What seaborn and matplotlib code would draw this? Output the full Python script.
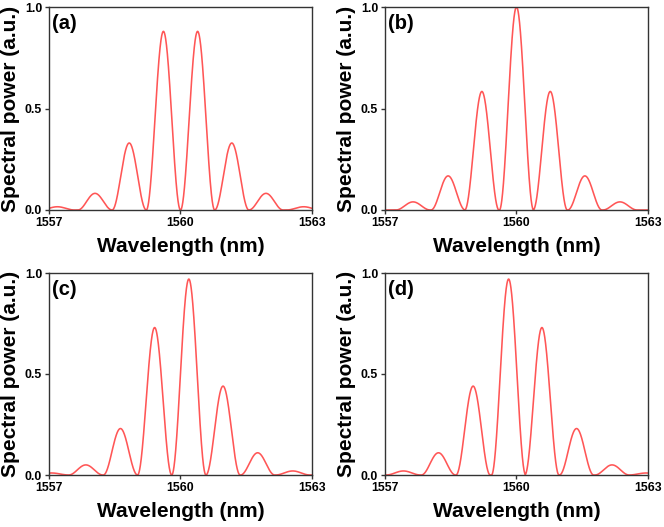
import numpy as np
import pandas as pd
import matplotlib
matplotlib.use("Agg")
import matplotlib.pyplot as plt
import seaborn as sns

# Peak wavelengths (nm) and heights
peaks_a = [1557.19, 1558.05, 1558.83, 1559.61, 1560.39, 1561.17, 1561.95, 1562.81]
heights_a = [0.016, 0.082, 0.33, 0.88, 0.88, 0.33, 0.082, 0.016]

peaks_b = [1557.64, 1558.44, 1559.21, 1560.0, 1560.77, 1561.56, 1562.36]
heights_b = [0.04, 0.168, 0.584, 1.0, 0.584, 0.168, 0.04]

peaks_c = [1557.06, 1557.84, 1558.63, 1559.41, 1560.19, 1560.97, 1561.76, 1562.56]
heights_c = [0.01, 0.05, 0.23, 0.73, 0.97, 0.44, 0.11, 0.02]

peaks_d = [1557.42, 1558.22, 1559.01, 1559.82, 1560.58, 1561.37, 1562.18, 1562.96]
heights_d = [0.02, 0.11, 0.44, 0.97, 0.73, 0.23, 0.05, 0.01]

panel_labels = ["(a)", "(b)", "(c)", "(d)"]
x_ticks = [1557, 1560, 1563]
y_ticks = [0.0, 0.5, 1.0]

LINE_WIDTH_NM = 0.78  # width of each comb line lobe (zero to zero)
LINE_COLOR = "#ff5656"
EDGE_COLOR = "#333333"


def spectrum(peaks, heights):
    """Trace the comb spectrum as cos^2 lobes sitting on each read-off peak."""
    wl = np.linspace(1557, 1563, 3001)
    power = np.zeros_like(wl)
    for c, h in zip(peaks, heights):
        d = wl - c
        lobe = np.where(np.abs(d) < LINE_WIDTH_NM / 2,
                        h * np.cos(np.pi * d / LINE_WIDTH_NM) ** 2, 0.0)
        power = np.maximum(power, lobe)
    return pd.DataFrame({"wavelength": wl, "power": power})


def draw_panel(ax, df, label):
    sns.lineplot(data=df, x="wavelength", y="power", ax=ax,
                 color=LINE_COLOR, linewidth=1.15)
    ax.set_xlim(1557, 1563)
    ax.set_ylim(0, 1.0)
    ax.set_xticks(x_ticks)
    ax.set_yticks(y_ticks)
    ax.set_yticklabels([f"{v:.1f}" for v in y_ticks])
    ax.set_xlabel("Wavelength (nm)", fontsize=15, fontweight="bold", labelpad=6)
    ax.set_ylabel("Spectral power (a.u.)", fontsize=15, fontweight="bold")
    ax.yaxis.set_label_coords(-0.112, 0.5)
    ax.tick_params(direction="out", length=3, width=1, labelsize=8.8,
                   color=EDGE_COLOR, labelcolor="black", pad=2)
    for t in ax.get_xticklabels() + ax.get_yticklabels():
        t.set_fontweight("bold")
    for s in ax.spines.values():
        s.set_visible(True)
        s.set_color(EDGE_COLOR)
        s.set_linewidth(1.0)
    ax.text(0.012, 0.965, label, transform=ax.transAxes, ha="left", va="top",
            fontsize=14.5, fontweight="bold", color="black")


def main():
    sns.set_theme(style="ticks")
    plt.rcParams["font.family"] = ["Liberation Sans", "DejaVu Sans"]
    plt.rcParams["text.color"] = "black"
    plt.rcParams["axes.labelcolor"] = "black"

    fig = plt.figure(figsize=(6.64, 5.27), dpi=100)
    W, H = 664, 527
    boxes = [(49, 7, 312, 210), (385, 7, 648, 210),
             (49, 273, 312, 475), (385, 273, 648, 475)]
    data = [(peaks_a, heights_a), (peaks_b, heights_b),
            (peaks_c, heights_c), (peaks_d, heights_d)]

    for (x0, y0, x1, y1), (p, h), lab in zip(boxes, data, panel_labels):
        ax = fig.add_axes([x0 / W, 1 - y1 / H, (x1 - x0) / W, (y1 - y0) / H])
        draw_panel(ax, spectrum(p, h), lab)

    fig.savefig("out.png", dpi=100)


if __name__ == "__main__":
    main()
